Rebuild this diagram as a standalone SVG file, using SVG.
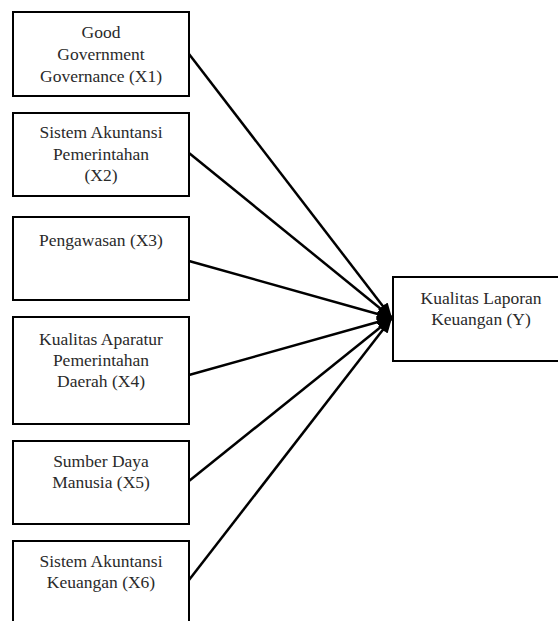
<svg xmlns="http://www.w3.org/2000/svg" width="558" height="621" viewBox="0 0 558 621">
<style>
.box{fill:#fff;stroke:#000;stroke-width:2}
.c{stroke:#000;stroke-width:2.5;fill:none;marker-end:url(#ah)}
</style>
<defs>
<marker id="ah" markerUnits="userSpaceOnUse" markerWidth="16" markerHeight="12" refX="15" refY="6" orient="auto">
<path d="M0,0 L15,6 L0,12 Z" fill="#000"/>
</marker>
</defs>
<rect width="558" height="621" fill="#fff"/>
<g id="connectors">
<line class="c" x1="189" y1="54" x2="392" y2="318"/>
<line class="c" x1="189" y1="153" x2="392" y2="318"/>
<line class="c" x1="189" y1="261" x2="392" y2="318"/>
<line class="c" x1="189" y1="375" x2="392" y2="318"/>
<line class="c" x1="189" y1="481" x2="392" y2="318"/>
<line class="c" x1="189" y1="580" x2="392" y2="318"/>
</g>
<g font-family="Liberation Serif, DejaVu Serif, serif" font-size="17.5" fill="#2a2a2a" text-anchor="middle">
<g id="x1">
<rect class="box" x="13" y="12" width="176" height="84"/>
<text x="101" y="38">Good</text>
<text x="101" y="60">Government</text>
<text x="101" y="82">Governance (X1)</text>
</g>
<g id="x2">
<rect class="box" x="13" y="113" width="176" height="83"/>
<text x="101" y="138">Sistem Akuntansi</text>
<text x="101" y="160">Pemerintahan</text>
<text x="101" y="181">(X2)</text>
</g>
<g id="x3">
<rect class="box" x="13" y="217" width="176" height="83"/>
<text x="101" y="246">Pengawasan (X3)</text>
</g>
<g id="x4">
<rect class="box" x="13" y="317" width="176" height="107"/>
<text x="101" y="345">Kualitas Aparatur</text>
<text x="101" y="366">Pemerintahan</text>
<text x="101" y="387">Daerah (X4)</text>
</g>
<g id="x5">
<rect class="box" x="13" y="441" width="176" height="83"/>
<text x="101" y="467">Sumber Daya</text>
<text x="101" y="488">Manusia (X5)</text>
</g>
<g id="x6">
<rect class="box" x="13" y="541" width="176" height="95"/>
<text x="101" y="567">Sistem Akuntansi</text>
<text x="101" y="588">Keuangan (X6)</text>
</g>
<g id="y">
<rect class="box" x="393" y="277" width="180" height="84"/>
<text x="481" y="304">Kualitas Laporan</text>
<text x="481" y="325">Keuangan (Y)</text>
</g>
</g>
</svg>
